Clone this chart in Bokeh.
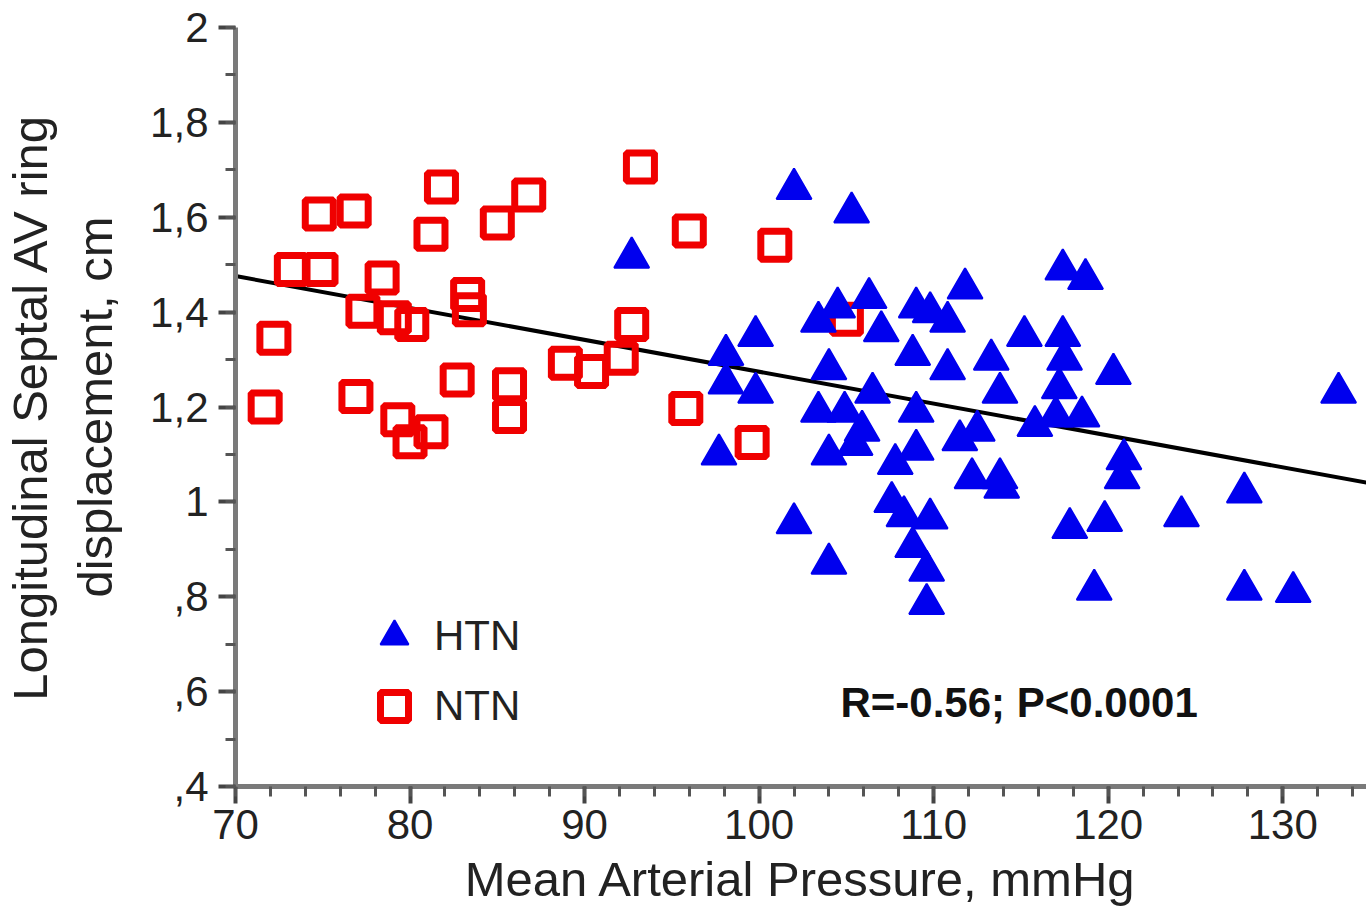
from bokeh.plotting import figure
from bokeh.models import (Range1d, FixedTicker, Legend, LegendItem, Label, ColumnDataSource)
from bokeh.embed import file_html
from bokeh.resources import INLINE

# ---------------- data ----------------
ntn_map = [71.7, 72.2, 73.2, 74.9, 74.8, 76.8, 78.4, 77.3, 79.1, 80.1, 83.3, 83.4,
           81.8, 81.2, 85.0, 86.8, 93.2, 96.0, 92.7, 92.1, 90.4, 88.9, 82.7, 85.7,
           85.7, 76.9, 79.3, 81.2, 80.0, 95.8, 99.6, 100.9, 105.0]
ntn_disp = [1.20, 1.345, 1.49, 1.49, 1.607, 1.613, 1.472, 1.402, 1.388, 1.374, 1.437, 1.405,
            1.664, 1.564, 1.588, 1.647, 1.706, 1.571, 1.374, 1.303, 1.275, 1.292, 1.257, 1.247,
            1.18, 1.222, 1.173, 1.148, 1.127, 1.197, 1.125, 1.541, 1.385]

htn_map = [102.0, 105.3, 117.4, 118.7, 111.8, 106.3, 104.5, 103.4, 107.0, 109.0, 109.8, 110.8,
           99.8, 98.1, 98.1, 99.8, 115.2, 117.4, 117.5, 120.3, 133.2, 108.8, 110.8, 113.3,
           104.0, 106.5, 113.8, 117.2, 103.4, 104.9, 109.0, 105.9, 115.8, 117.0, 118.5, 111.5,
           112.5, 97.7, 104.0, 107.8, 109.0, 112.2, 113.8, 113.9, 120.9, 120.8, 127.8, 102.0,
           107.6, 108.3, 109.8, 108.8, 109.6, 109.6, 104.0, 117.8, 119.8, 124.2, 119.2, 127.8,
           130.6, 105.5, 92.7]
htn_disp = [1.66, 1.61, 1.49, 1.47, 1.45, 1.43, 1.41, 1.38, 1.36, 1.41, 1.40, 1.38,
            1.35, 1.31, 1.25, 1.23, 1.35, 1.35, 1.30, 1.27, 1.23, 1.31, 1.28, 1.30,
            1.28, 1.23, 1.23, 1.24, 1.19, 1.19, 1.19, 1.15, 1.16, 1.18, 1.18, 1.13,
            1.15, 1.10, 1.10, 1.08, 1.11, 1.05, 1.05, 1.03, 1.09, 1.05, 1.02, 0.955,
            1.00, 0.97, 0.965, 0.905, 0.855, 0.785, 0.87, 0.945, 0.96, 0.97, 0.815, 0.815,
            0.81, 1.12, 1.515]

fit_intercept_at_70 = 1.476
fit_slope = -0.00672
fit_x = [70.0, 134.8]

xtick_values = [70, 80, 90, 100, 110, 120, 130]
xtick_minor = [70 + 2 * i for i in range(33)]
ytick_values = [0.4, 0.6, 0.8, 1.0, 1.2, 1.4, 1.6, 1.8, 2.0]
ytick_labels = [",4", ",6", ",8", "1", "1,2", "1,4", "1,6", "1,8", "2"]
ytick_minor = [0.4 + 0.1 * i for i in range(17)]

stat_text = "R=-0.56; P<0.0001"
x_title = "Mean Arterial Pressure, mmHg"
y_title = "Longitudinal Septal AV ring\ndisplacement, cm"

FONT = "Liberation Sans"

p = figure(width=1366, height=921, output_backend="svg", toolbar_location=None,
           x_range=Range1d(70, 134.8), y_range=Range1d(0.4, 2.0),
           min_border_left=233, min_border_right=0, min_border_top=27, min_border_bottom=135)
p.outline_line_color = None
p.xgrid.visible = False
p.ygrid.visible = False
p.background_fill_color = "white"
p.border_fill_color = "white"

fit_y = [fit_intercept_at_70 + fit_slope * (x - 70.0) for x in fit_x]
p.line(fit_x, fit_y, line_color="black", line_width=4)

src_n = ColumnDataSource(dict(x=ntn_map, y=ntn_disp))
src_h = ColumnDataSource(dict(x=htn_map, y=htn_disp))
r_n = p.scatter("x", "y", source=src_n, marker="square", size=28, fill_alpha=0,
                line_color="#f00000", line_width=7)
r_h = p.scatter("x", "y", source=src_h, marker="triangle", size=35, fill_color="#0000ee",
                line_color="#0000ee", line_width=2)

for ax in (p.xaxis[0], p.yaxis[0]):
    ax.axis_line_color = "#7a7a7a"
    ax.axis_line_width = 5
    ax.major_tick_line_color = "#444444"
    ax.major_tick_line_width = 4
    ax.minor_tick_line_color = "#555555"
    ax.minor_tick_line_width = 3
    ax.major_tick_in = 0
    ax.minor_tick_in = 0
    ax.major_tick_out = 17
    ax.minor_tick_out = 10
    ax.major_label_text_font = FONT
    ax.major_label_text_font_size = "42px"
    ax.major_label_text_color = "#222222"
    ax.axis_label_text_font = FONT
    ax.axis_label_text_font_size = "49px"
    ax.axis_label_text_font_style = "normal"
    ax.axis_label_text_color = "#222222"

p.xaxis.ticker = FixedTicker(ticks=xtick_values, minor_ticks=xtick_minor)
p.yaxis.ticker = FixedTicker(ticks=ytick_values, minor_ticks=ytick_minor)
p.yaxis.major_label_overrides = dict(zip(ytick_values, ytick_labels))
p.xaxis.major_label_standoff = 6
p.yaxis.major_label_standoff = 10
p.xaxis.axis_label = x_title
p.yaxis.axis_label = y_title
p.xaxis.axis_label_standoff = 10
p.yaxis.axis_label_standoff = 25

legend = Legend(items=[LegendItem(label="HTN", renderers=[r_h]),
                       LegendItem(label="NTN", renderers=[r_n])],
                location=(124, 45), glyph_width=70, glyph_height=70, spacing=0,
                label_standoff=5, padding=0, margin=0,
                border_line_alpha=0, background_fill_alpha=0,
                label_text_font=FONT, label_text_font_size="42px", label_text_color="#222222")
p.add_layout(legend)

p.add_layout(Label(x=605, y=84, x_units="screen", y_units="screen", text=stat_text,
                   text_font=FONT, text_font_size="42px", text_font_style="bold",
                   text_color="#111111", text_align="left", text_baseline="middle"))

open("out.html", "w").write(file_html(p, INLINE))
